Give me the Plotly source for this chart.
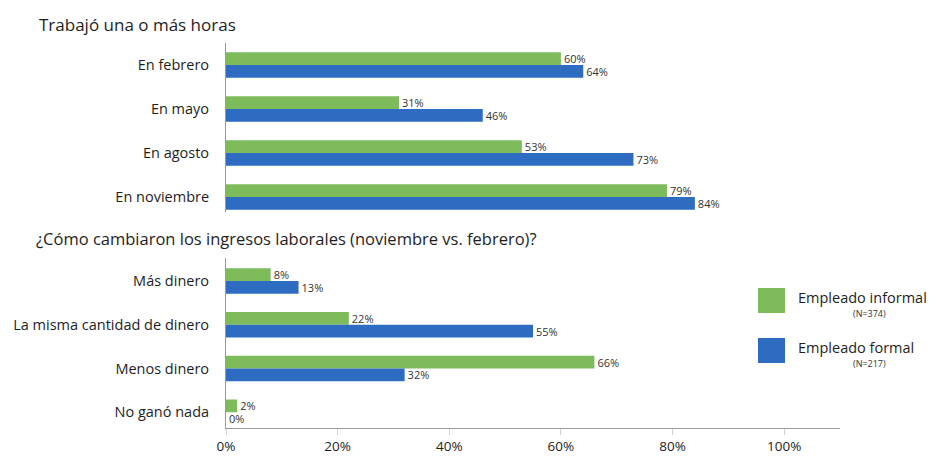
import plotly.graph_objects as go
from plotly.subplots import make_subplots

top_categories = ["En febrero", "En mayo", "En agosto", "En noviembre"]
top_informal = [60, 31, 53, 79]
top_formal = [64, 46, 73, 84]

bottom_categories = ["Más dinero", "La misma cantidad de dinero", "Menos dinero", "No ganó nada"]
bottom_informal = [8, 22, 66, 2]
bottom_formal = [13, 55, 32, 0]

series_names = ["Empleado informal", "Empleado formal"]
series_n = ["(N=374)", "(N=217)"]
x_ticks = [0, 20, 40, 60, 80, 100]

GREEN = "#7dbb5b"
BLUE = "#2d6cc0"
FONT = "Open Sans"
TXT = "#1e1e1e"

fig = make_subplots(rows=2, cols=1, shared_xaxes=False, vertical_spacing=0.0)

def add_pair(cats, inf, form, row):
    for vals, color in ((inf, GREEN), (form, BLUE)):
        fig.add_trace(go.Bar(
            y=cats, x=vals, orientation="h",
            marker=dict(color=color, line=dict(width=0)),
            text=[f"{v}%" for v in vals], textposition="outside",
            constraintext="none",
            textfont=dict(family=FONT, size=11, color="#333333"),
            cliponaxis=False, showlegend=False,
        ), row=row, col=1)

add_pair(top_categories, top_informal, top_formal, 1)
add_pair(bottom_categories, bottom_informal, bottom_formal, 2)

L, R, T, B = 226, 91, 43, 29
fig.update_layout(
    width=931, height=457,
    margin=dict(l=L, r=R, t=T, b=B, autoexpand=False),
    paper_bgcolor="white", plot_bgcolor="white",
    barmode="group", bargap=0.42, bargroupgap=0.0,
    font=dict(family=FONT, color=TXT),
    showlegend=False,
)

fig.update_xaxes(range=[0, 110], showgrid=False, zeroline=False, automargin=False)
fig.update_xaxes(row=1, col=1, showticklabels=False, showline=False, ticks="")
fig.update_xaxes(row=2, col=1, tickvals=x_ticks, ticktext=[f"{t}%" for t in x_ticks],
                 showline=True, linecolor="#9a9a9a", linewidth=1,
                 ticks="outside", ticklen=6, tickcolor="#d0d0d0",
                 tickfont=dict(family=FONT, size=13.5, color=TXT))

fig.update_yaxes(showgrid=False, zeroline=False, showline=True, linecolor="#9a9a9a",
                 linewidth=1, ticks="", ticklabelstandoff=13, automargin=False,
                 tickfont=dict(family=FONT, size=14.5, color=TXT))
fig.update_yaxes(row=1, col=1, domain=[0.561, 1.0], range=[3.34, -0.5])
fig.update_yaxes(row=2, col=1, domain=[0.0, 0.442], range=[3.36, -0.53])

pw = 931 - L - R
ph = 457 - T - B
def px(xp):
    return (xp - L) / pw
def py(yp):
    return (457 - B - yp) / ph

# Section titles
fig.add_annotation(text="Trabajó una o más horas", xref="paper", yref="paper",
                   x=px(37), y=py(25), xanchor="left", yanchor="middle", showarrow=False,
                   font=dict(family=FONT, size=17, color=TXT))
fig.add_annotation(text="¿Cómo cambiaron los ingresos laborales (noviembre vs. febrero)?",
                   xref="paper", yref="paper", x=px(34), y=py(238), xanchor="left",
                   yanchor="middle", showarrow=False,
                   font=dict(family=FONT, size=16.5, color=TXT))

# Custom legend
for i, (name, n, color) in enumerate(zip(series_names, series_n, (GREEN, BLUE))):
    y0 = 288 + i * 50
    fig.add_shape(type="rect", xref="paper", yref="paper",
                  x0=px(758), x1=px(785), y0=py(y0 + 25), y1=py(y0),
                  fillcolor=color, line=dict(width=0))
    fig.add_annotation(text=name, xref="paper", yref="paper", x=px(796), y=py(y0 + 9),
                       xanchor="left", yanchor="middle", showarrow=False,
                       font=dict(family=FONT, size=14.5, color=TXT))
    fig.add_annotation(text=n, xref="paper", yref="paper", x=px(869), y=py(y0 + 25),
                       xanchor="center", yanchor="middle", showarrow=False,
                       font=dict(family=FONT, size=9, color="#333333"))

fig.write_html("out.html", config={"displayModeBar": False},
               post_script="document.body.style.margin='0px';")
